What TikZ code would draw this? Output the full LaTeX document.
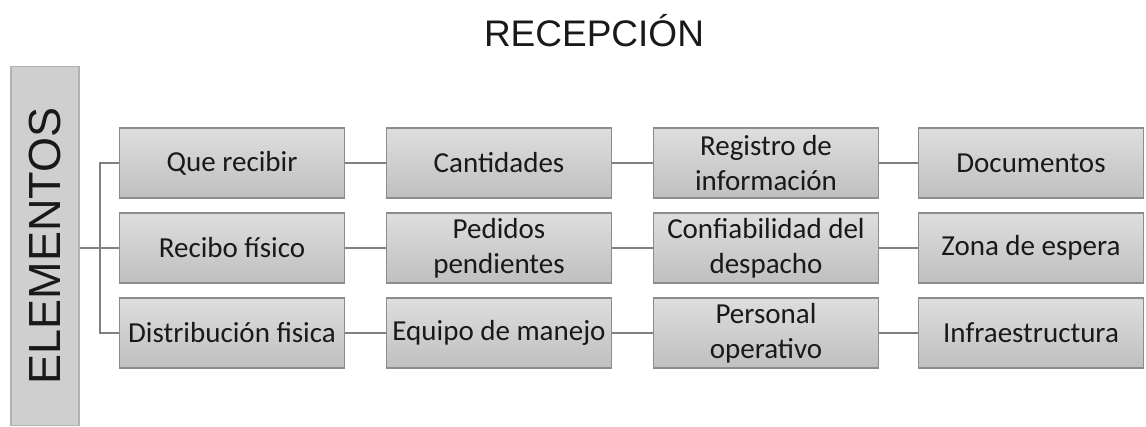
\documentclass[tikz,border=0pt]{standalone}
\usepackage{fontspec}
\setmainfont{Carlito}
\newfontfamily\arialf{Liberation Sans}
\begin{document}
\begin{tikzpicture}[x=1pt,y=-1pt,
  itembox/.style={draw=black!45, line width=1.2pt, top color=black!13, bottom color=black!25,
    minimum width=225pt, minimum height=70pt, inner sep=2pt, align=center,
    text=black!90, font=\fontsize{29}{35}\selectfont},
  link/.style={draw=black!50, line width=1.3pt}]
\useasboundingbox (0,0) rectangle (1146,426);
\node[font=\arialf\fontsize{37}{40}\selectfont, text=black!90] (title) at (594,31) {RECEPCIÓN};
\node[draw=black!30, line width=1.2pt, fill=black!19, minimum width=68pt, minimum height=359pt,
  inner sep=0pt] (elem) at (45,246) {};
\node[rotate=90, font=\arialf\fontsize{45}{50}\selectfont, text=black!90] (elemtxt) at (elem.center) {ELEMENTOS};
% rows
\node[itembox] (a1) at (232,163) {Que recibir};
\node[itembox] (a2) at (499,163) {Cantidades};
\node[itembox] (a3) at (766,163) {Registro de\\información};
\node[itembox] (a4) at (1031,163) {Documentos};
\node[itembox] (b1) at (232,248) {Recibo físico};
\node[itembox] (b2) at (499,248) {Pedidos\\pendientes};
\node[itembox] (b3) at (766,248) {Confiabilidad del\\despacho};
\node[itembox] (b4) at (1031,248) {Zona de espera};
\node[itembox] (c1) at (232,333) {Distribución fisica};
\node[itembox] (c2) at (499,333) {Equipo de manejo};
\node[itembox] (c3) at (766,333) {Personal\\operativo};
\node[itembox] (c4) at (1031,333) {Infraestructura};
\coordinate (j) at (100,248);
\draw[link] (elem.east |- j) -- (j);
\draw[link] (a1.west) -| (j) |- (c1.west);
\draw[link] (j) -- (b1.west);
\foreach \r in {a,b,c}{
  \draw[link] (\r1.east) -- (\r2.west);
  \draw[link] (\r2.east) -- (\r3.west);
  \draw[link] (\r3.east) -- (\r4.west);
}
\end{tikzpicture}
\end{document}
